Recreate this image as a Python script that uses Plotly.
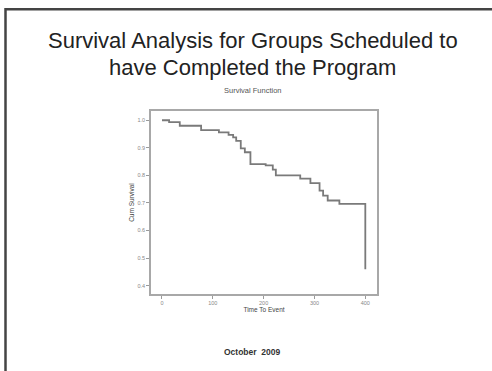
import plotly.graph_objects as go

# Kaplan-Meier survival estimate (step function)
time_to_event = [0, 14, 35, 77, 112, 131, 140, 146, 155, 163, 174, 204, 218, 224,
                 272, 292, 310, 317, 326, 349, 400]
cum_survival = [1.0, 0.993, 0.980, 0.964, 0.956, 0.947, 0.938, 0.925, 0.898, 0.884,
                0.841, 0.836, 0.821, 0.800, 0.788, 0.772, 0.745, 0.727, 0.709, 0.697,
                0.46]

x_ticks = [0, 100, 200, 300, 400]
y_ticks = [0.4, 0.5, 0.6, 0.7, 0.8, 0.9, 1.0]
y_tick_text = ["0.4", "0.5", "0.6", "0.7", "0.8", "0.9", "1.0"]

W, H = 492, 371
L, R, T, B = 151, 115, 111, 77
PW, PH = W - L - R, H - T - B


def px(x):
    return (x - L) / PW


def py(y):
    return (H - B - y) / PH


fig = go.Figure()
fig.add_trace(go.Scatter(
    x=time_to_event, y=cum_survival, mode="lines", line_shape="hv",
    line=dict(color="#7a7a7a", width=1.8), hoverinfo="skip", showlegend=False,
))

axis_common = dict(
    showgrid=False, zeroline=False, showline=True, mirror=True,
    linecolor="#a8a8a8", linewidth=1.6, ticks="outside", ticklen=3,
    tickwidth=1, tickcolor="#9a9a9a",
    tickfont=dict(family="Arial, Liberation Sans", size=5.5, color="#888"),
)

fig.update_xaxes(range=[-21.6, 423], tickvals=x_ticks,
                 ticktext=[str(v) for v in x_ticks],
                 title=dict(text="Time To Event", standoff=1,
                            font=dict(family="Arial, Liberation Sans", size=6.5,
                                      color="#444")),
                 **axis_common)
fig.update_yaxes(range=[0.370, 1.0335], tickvals=y_ticks, ticktext=y_tick_text,
                 title=dict(text="Cum Survival", standoff=2,
                            font=dict(family="Arial, Liberation Sans", size=6.5,
                                      color="#444")),
                 **axis_common)

font_main = "Arial, Liberation Sans, sans-serif"
annotations = [
    dict(text="Survival Analysis for Groups Scheduled to", x=px(252.5), y=py(40),
         font=dict(family=font_main, size=22, color="#222")),
    dict(text="have Completed the Program", x=px(252), y=py(67),
         font=dict(family=font_main, size=22, color="#222")),
    dict(text="Survival Function", x=px(252.5), y=py(90),
         font=dict(family=font_main, size=7.5, color="#555")),
    dict(text="<b>October  2009</b>", x=px(252), y=py(352),
         font=dict(family=font_main, size=8.5, color="#333")),
]
for a in annotations:
    a.update(xref="paper", yref="paper", xanchor="center", yanchor="middle",
             showarrow=False)

# slide frame: top and left edges
shapes = [
    dict(type="line", xref="paper", yref="paper", x0=px(5.5), x1=px(W + 2),
         y0=py(9.3), y1=py(9.3), line=dict(color="#444", width=2.5)),
    dict(type="line", xref="paper", yref="paper", x0=px(5.5), x1=px(5.5),
         y0=py(8), y1=py(H + 2), line=dict(color="#444", width=2.5)),
]

fig.update_layout(
    width=W, height=H, margin=dict(l=L, r=R, t=T, b=B),
    paper_bgcolor="white", plot_bgcolor="white",
    annotations=annotations, shapes=shapes, showlegend=False,
)

fig.write_html("out.html", config={"displayModeBar": False})
